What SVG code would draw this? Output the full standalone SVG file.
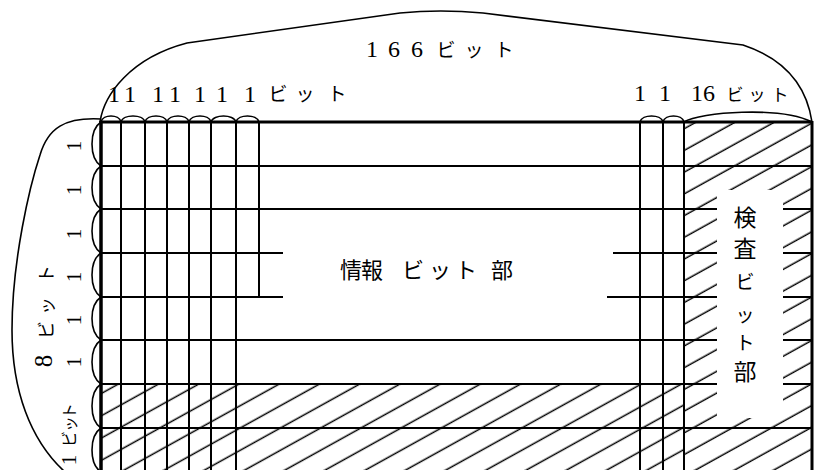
<svg xmlns="http://www.w3.org/2000/svg" width="814" height="470" viewBox="0 0 814 470">
<style>
.ln{stroke:#000;stroke-width:2;fill:none;stroke-linecap:butt}
.thk{stroke:#000;stroke-width:3;fill:none}
.br{stroke:#000;stroke-width:1.6;fill:none}
.d{font-family:"Liberation Serif","Times New Roman",serif;fill:#000}
.k{font-family:"Noto Sans CJK JP","Noto Sans CJK SC",sans-serif;fill:#000}
</style>
<defs>
<pattern id="hatchA" patternUnits="userSpaceOnUse" width="20" height="19.5" patternTransform="rotate(-29)">
<line x1="-1" y1="3.3" x2="21" y2="3.3" stroke="#000" stroke-width="1.5"/>
</pattern>
<pattern id="hatchB" patternUnits="userSpaceOnUse" width="20" height="19" patternTransform="rotate(-29)">
<line x1="-1" y1="7.3" x2="21" y2="7.3" stroke="#000" stroke-width="1.5"/>
</pattern>
</defs>
<rect width="814" height="470" fill="#fff"/>

<g id="hatching">
<rect x="101" y="384" width="583" height="86" fill="url(#hatchA)"/>
<rect x="684" y="122" width="128" height="348" fill="url(#hatchB)"/>
<rect x="717" y="190" width="66" height="228" fill="#fff"/>
</g>

<g id="grid">
<path class="ln" d="M101,166H812M101,209H717M783,209H812M101,253H283M613,253H717M783,253H812M101,297H283M607,297H717M783,297H812M101,340H717M783,340H812M101,384H717M783,384H812M101,428H812"/>
<path class="ln" d="M121,122V470M145,122V470M167,122V470M189,122V470M211,122V470M236,122V470M259,122V297M640,122V470M663,122V470M684,122V470"/>
<path class="thk" d="M99.5,122H812"/>
<path class="thk" d="M101,121V470" style="stroke-width:3.5"/>
<path class="thk" d="M812,121V470"/>
</g>

<g id="braces">
<path class="br" d="M101,122C103,114 119,114 121,122M121,122C123,114 143,114 145,122M145,122C147,114 165,114 167,122M167,122C169,114 187,114 189,122M189,122C191,114 209,114 211,122M211,122C213,114 234,114 236,122M236,122C238,114 257,114 259,122"/>
<path class="br" d="M640,122C642,114 661,114 663,122M663,122C665,114 682,114 684,122M684,122C700,112 780,106 812,122"/>
<path class="br" d="M101,122C89,130 89,158 101,166M101,166C89,174 89,201 101,209M101,209C89,217 89,245 101,253M101,253C89,261 89,289 101,297M101,297C89,305 89,332 101,340M101,340C89,348 89,376 101,384M101,384C89,392 89,420 101,428M101,428C89,436 89,464 101,472"/>
<path class="br" d="M100,122C104,95 130,58 187,43L400,13Q440,9 483,13L743,45C782,58 806,82 812,122"/>
<path class="br" d="M101,119C65,117 48,128 40,155C30,185 12,260 12,330C12,390 30,440 65,472"/>
</g>

<g id="labels">
<text y="57" font-size="24"><tspan class="d" x="372" text-anchor="middle">1</tspan><tspan class="d" x="394" text-anchor="middle">6</tspan><tspan class="d" x="417" text-anchor="middle">6</tspan></text>
<text y="57" font-size="19" class="k" text-anchor="middle"><tspan x="446">ビ</tspan><tspan x="474">ッ</tspan><tspan x="504">ト</tspan></text>

<text y="102" font-size="24" class="d" text-anchor="middle"><tspan x="114">1</tspan><tspan x="130">1</tspan><tspan x="158">1</tspan><tspan x="175">1</tspan><tspan x="200">1</tspan><tspan x="222">1</tspan><tspan x="250">1</tspan></text>
<text y="101" font-size="19" class="k" text-anchor="middle"><tspan x="278">ビ</tspan><tspan x="305">ッ</tspan><tspan x="337">ト</tspan></text>

<text y="101" font-size="24" class="d" text-anchor="middle"><tspan x="640">1</tspan><tspan x="665">1</tspan><tspan x="703">16</tspan></text>
<text y="101" font-size="17" class="k" text-anchor="middle"><tspan x="735">ビ</tspan><tspan x="757">ッ</tspan><tspan x="780">ト</tspan></text>

<g class="d" font-size="21" text-anchor="middle">
<text transform="translate(81,146) rotate(-90)">1</text>
<text transform="translate(81,190) rotate(-90)">1</text>
<text transform="translate(81,234) rotate(-90)">1</text>
<text transform="translate(81,277) rotate(-90)">1</text>
<text transform="translate(81,320) rotate(-90)">1</text>
<text transform="translate(81,362) rotate(-90)">1</text>
<text transform="translate(52,361) rotate(-90)" font-size="25">8</text>
<text transform="translate(76,460) rotate(-90)" font-size="21">1</text>
</g>
<g class="k" text-anchor="middle" dominant-baseline="central">
<text transform="translate(45,330) rotate(-90)" font-size="18">ビ</text>
<text transform="translate(46,306) rotate(-90)" font-size="18">ッ</text>
<text transform="translate(45,274) rotate(-90)" font-size="18">ト</text>
<text transform="translate(68,439) rotate(-90)" font-size="16">ビ</text>
<text transform="translate(69,424) rotate(-90)" font-size="16">ッ</text>
<text transform="translate(68,411) rotate(-90)" font-size="16">ト</text>
</g>

<text y="278" font-size="22" class="k" text-anchor="middle"><tspan x="351">情</tspan><tspan x="372">報</tspan><tspan x="413">ビ</tspan><tspan x="440">ッ</tspan><tspan x="466">ト</tspan><tspan x="502">部</tspan></text>

<g class="k" text-anchor="middle" dominant-baseline="central">
<text x="745" y="216" font-size="23">検</text>
<text x="745" y="247" font-size="23">査</text>
<text x="745" y="280" font-size="19">ビ</text>
<text x="745" y="313" font-size="19">ッ</text>
<text x="745" y="341" font-size="19">ト</text>
<text x="745" y="370" font-size="23">部</text>
</g>
</g>
</svg>
